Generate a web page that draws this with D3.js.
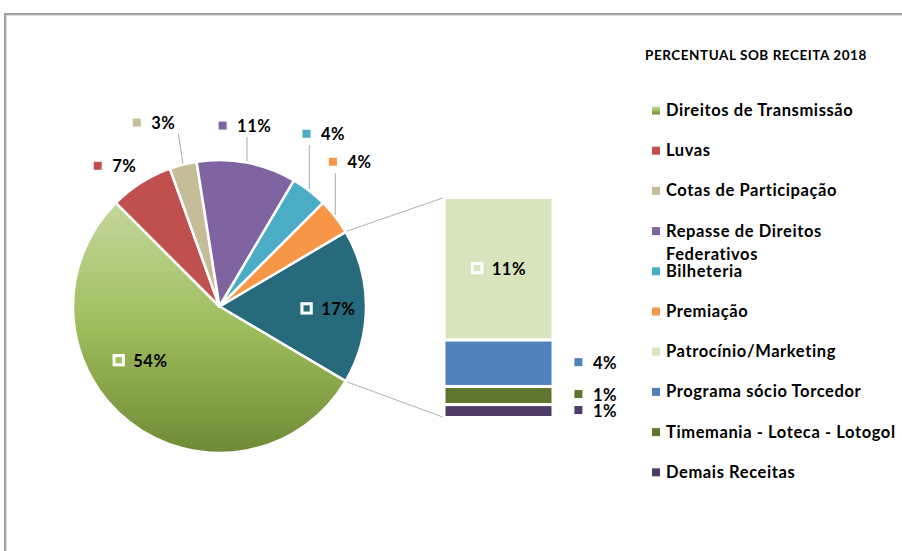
<!DOCTYPE html>
<html><head><meta charset="utf-8">
<script src="https://cdn.jsdelivr.net/npm/d3@7"></script>
<style>html,body{margin:0;padding:0;background:#fff;overflow:hidden}</style>
</head><body><svg id="c" width="902" height="551"></svg>
<script>
// ---------- data ----------
const title = "PERCENTUAL SOB RECEITA 2018";
const pieCategories = ["Direitos de Transmissão","Luvas","Cotas de Participação","Repasse de Direitos Federativos","Bilheteria","Premiação"];
const pieValues = [54, 7, 3, 11, 4, 4];
const otherCategories = ["Patrocínio/Marketing","Programa sócio Torcedor","Timemania - Loteca - Lotogol","Demais Receitas"];
const otherValues = [11, 3.6, 1.4, 1];
const pieColors = ["url(#gGreen)","#c0504d","#c4bd97","#8064a2","#4bacc6","#f79646"];
const otherSliceColor = "#276a7c";
const otherColors = ["#d7e4bd","#4f81bd","#5f7530","#4f3c64"];

// ---------- layout ----------
const W = 902, H = 551;
const cx = 219.5, cy = 306.5, R = 146.5;
const bar = {x: 444, w: 109, top: 197.5, bottom: 417.5};
const font = "Lato, 'Open Sans', sans-serif";
const deg = Math.PI / 180;
const pieLabelLayout = [
  {inside: true, angle: 235.7, rf: 0.657},
  {dx: -26, dy: -16},
  {dx: -29, dy: -41},
  {dx: -2, dy: -36},
  {dx: 14.5, dy: -56},
  {dx: 15, dy: -54}
];
const otherLabelLayout = {inside: true, angle: 91.3, rf: 0.74};

const svg = d3.select("#c");
const defs = svg.append("defs");
const gr = defs.append("linearGradient").attr("id","gGreen").attr("x1",0).attr("y1",0).attr("x2",0).attr("y2",1);
gr.append("stop").attr("offset","0").attr("stop-color","#c4d79c");
gr.append("stop").attr("offset","0.5").attr("stop-color","#9ebd5c");
gr.append("stop").attr("offset","1").attr("stop-color","#6f8a36");

// frame
svg.append("rect").attr("x",5).attr("y",14).attr("width",W+20).attr("height",H+20)
  .attr("fill","none").attr("stroke","#878787").attr("stroke-width",1.6);
svg.append("rect").attr("x",6.3).attr("y",15.3).attr("width",W+20).attr("height",H+20)
  .attr("fill","none").attr("stroke","#d4d4d4").attr("stroke-width",1);

const otherSum = d3.sum(otherValues);
const pieData = [{name:"Outros", value: otherSum, color: otherSliceColor, other: true, layout: otherLabelLayout}]
  .concat(pieCategories.map((c,i)=>({name:c, value:pieValues[i], color:pieColors[i], layout: pieLabelLayout[i]})));
const total = d3.sum(pieData, d=>d.value);
const a0 = Math.PI/2 - Math.PI * otherSum/total;
const pie = d3.pie().sort(null).value(d=>d.value).startAngle(a0).endAngle(a0 + 2*Math.PI);
const arcs = pie(pieData);
const arc = d3.arc().innerRadius(0).outerRadius(R);
const pt = (a, r) => [cx + r*Math.sin(a), cy - r*Math.cos(a)];

const gPie = svg.append("g").attr("transform",`translate(${cx},${cy})`);
gPie.selectAll("path").data(arcs).join("path")
  .attr("d", arc).attr("fill", d=>d.data.color)
  .attr("stroke","#fff").attr("stroke-width",2.5).attr("stroke-linejoin","round");

// connector lines
const oa = arcs[0];
const ys = d3.scaleLinear().domain([0, otherSum]).range([bar.bottom, bar.top]);
[[oa.startAngle, ys(otherSum)], [oa.endAngle, ys(0)]].forEach(([a, y])=>{
  const p = pt(a, R + 1.5);
  svg.append("line").attr("x1",p[0]).attr("y1",p[1]).attr("x2",bar.x).attr("y2",y)
    .attr("stroke","#b0b0b0").attr("stroke-width",1);
});

// bar of pie
let cum = 0;
const stack = otherValues.map((v,i)=>({name:otherCategories[i], value:v, color:otherColors[i]}));
const stackFromBottom = stack.slice().reverse().map(d=>{const o={...d, y0:cum, y1:cum+d.value}; cum+=d.value; return o;});
svg.append("g").selectAll("rect").data(stackFromBottom).join("rect")
  .attr("x", bar.x).attr("width", bar.w)
  .attr("y", d=>ys(d.y1)).attr("height", d=>ys(d.y0)-ys(d.y1))
  .attr("fill", d=>d.color).attr("stroke","#fff").attr("stroke-width",3);

const pct = v => Math.round(v/total*100) + "%";
const labelsG = svg.append("g").attr("font-family", font).attr("font-weight", 700)
  .attr("font-size", 16.5).attr("letter-spacing", 0.5).attr("fill","#000");

function insideLabel(x, y, color, txt){
  const g = labelsG.append("g");
  const t = g.append("text").text(txt);
  const tw = t.node().getComputedTextLength();
  const wTot = 20.7 + tw;
  const left = x - wTot/2;
  t.attr("x", left + 20.7).attr("y", y + 6);
  g.insert("rect","text").attr("x", left+1.5).attr("y", y+6-12.7+1.5).attr("width", 9.3).attr("height", 9.3)
    .attr("fill", color).attr("stroke","#fff").attr("stroke-width",3);
}
function outsideLabel(x, y, color, txt){
  const g = labelsG.append("g");
  const t = g.append("text").text(txt);
  const tw = t.node().getComputedTextLength();
  const wTot = 18.5 + tw;
  const left = x - wTot/2;
  t.attr("x", left + 18.5).attr("y", y + 5.5);
  g.insert("rect","text").attr("x", left).attr("y", y + 5.5 - 10.5).attr("width", 8).attr("height", 8).attr("fill", color);
  return {left, right: left + wTot, bottom: y + 10.5};
}

arcs.forEach(a=>{
  const d = a.data, L = d.layout;
  const mid = (a.startAngle + a.endAngle)/2;
  const fillCol = d.color.startsWith("url") ? "#a3c062" : d.color;
  if (L.inside){
    const p = pt(L.angle*deg, L.rf*R);
    insideLabel(p[0], p[1], fillCol, pct(d.value));
  } else {
    const ap = pt(mid, R);
    const b = outsideLabel(ap[0]+L.dx, ap[1]+L.dy, d.color, pct(d.value));
    const lx = Math.max(b.left, Math.min(b.right+3, ap[0]));
    if (ap[1] - b.bottom > 8){
      svg.insert("line", "g").attr("x1", lx).attr("y1", b.bottom).attr("x2", ap[0]).attr("y2", ap[1])
        .attr("stroke","#a6a6a6").attr("stroke-width",1);
    }
  }
});
// bar labels (outside ones pushed apart to keep a minimum gap)
const minGap = 16;
let prevY = Infinity;
stackFromBottom.forEach(d=>{
  let yc = (ys(d.y0)+ys(d.y1))/2;
  if (d.value > 5) { insideLabel(bar.x + bar.w/2, yc, d.color, pct(d.value)); return; }
  if (prevY - yc < minGap) yc = prevY - minGap;
  prevY = yc;
  outsideLabel(bar.x + bar.w + 42.7, yc, d.color, pct(d.value));
});

// legend
const lg = svg.append("g").attr("font-family", font).attr("font-weight",700).attr("fill","#000");
lg.append("text").attr("x",645).attr("y",60).attr("font-size",13.5).attr("letter-spacing",0.55).text(title);
const legendItems = pieData.slice(1).map(d=>({name:d.name, color:d.color}))
  .concat(stack.map(d=>({name:d.name, color:d.color})));
const maxW = 236;
legendItems.forEach((d,i)=>{
  const y = 116 + 40.2*i;
  lg.append("rect").attr("x",652).attr("y",y-9.5).attr("width",8).attr("height",8).attr("fill",d.color);
  const t = lg.append("text").attr("x",666).attr("y",y).attr("font-size",16.5).attr("letter-spacing",0.6);
  const words = d.name.split(" ");
  let line = [], ln = 0;
  let ts = t.append("tspan").attr("x",666).attr("y",y);
  words.forEach(w=>{
    line.push(w); ts.text(line.join(" "));
    if (ts.node().getComputedTextLength() > maxW && line.length>1){
      line.pop(); ts.text(line.join(" "));
      line = [w]; ln++;
      ts = t.append("tspan").attr("x",666).attr("y", y + 23.6*ln).text(w);
    }
  });
});
</script></body></html>
